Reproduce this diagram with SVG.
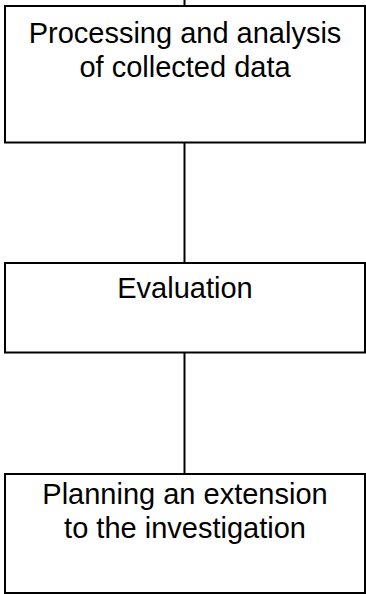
<svg xmlns="http://www.w3.org/2000/svg" width="366" height="594" viewBox="0 0 366 594">
<style>
.box{fill:#fff;stroke:#000;stroke-width:2}
.lbl{font-family:"Liberation Sans",Arial,sans-serif;font-size:29px;fill:#000;text-anchor:middle}
.conn line{stroke:#000;stroke-width:2}
</style>
<rect width="366" height="594" fill="#fff"/>
<g id="connectors" class="conn">
<line x1="184.5" y1="0" x2="184.5" y2="6"/>
<line x1="184.5" y1="142.5" x2="184.5" y2="263"/>
<line x1="184.5" y1="352.5" x2="184.5" y2="474"/>
</g>
<g id="processing">
<rect class="box" x="5" y="6" width="360" height="136.5"/>
<text class="lbl" x="185" y="42.5">Processing and analysis</text>
<text class="lbl" x="185" y="76.5">of collected data</text>
</g>
<g id="evaluation">
<rect class="box" x="5" y="263" width="360" height="89.5"/>
<text class="lbl" x="185" y="298.3">Evaluation</text>
</g>
<g id="planning">
<rect class="box" x="5" y="474" width="360" height="119"/>
<text class="lbl" x="185" y="503.5">Planning an extension</text>
<text class="lbl" x="185" y="537.5">to the investigation</text>
</g>
</svg>
